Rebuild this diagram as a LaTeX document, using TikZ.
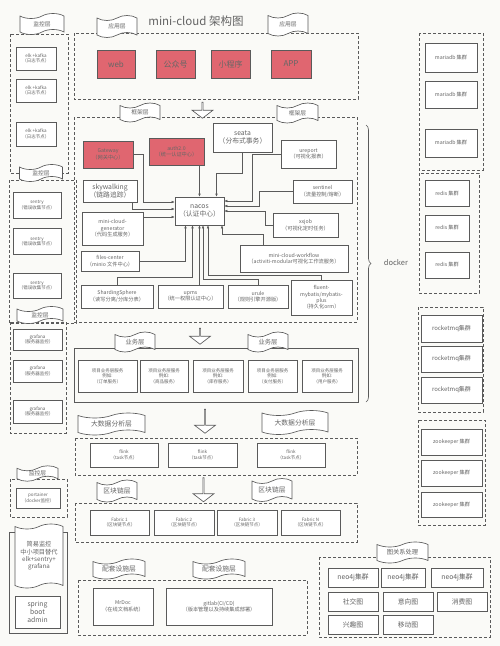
\documentclass[tikz,border=0pt]{standalone}
\usepackage{fontspec}
\setmainfont{Noto Sans CJK SC}
\usetikzlibrary{shapes.symbols, shapes.arrows, arrows.meta, calc, decorations.pathreplacing}

\definecolor{bgpaper}{RGB}{250,250,247}
\definecolor{inkgray}{RGB}{90,90,90}
\definecolor{txtgray}{RGB}{100,100,100}
\definecolor{redbox}{RGB}{224,102,112}

\begin{document}
\begin{tikzpicture}[x=1pt, y=-1pt,
  tinytxt/.style={font=\fontsize{4.5}{5.5}\selectfont},
  smalltxt/.style={font=\fontsize{5.2}{6.4}\selectfont},
  midtxt/.style={font=\fontsize{6.8}{8.2}\selectfont},
  bigtxt/.style={font=\fontsize{8}{9.5}\selectfont},
  box/.style={draw=inkgray, fill=white, text=txtgray, align=center, inner sep=0.5pt, line width=0.65pt, smalltxt},
  redfill/.style={box, fill=redbox, text=black!60},
  sz/.style 2 args={minimum width=#1pt, minimum height=#2pt},
  layer/.style={draw=inkgray, line width=0.65pt, dash pattern=on 3pt off 2pt},
  tag/.style={tape, draw=inkgray, fill=white, text=txtgray, align=center, inner sep=0pt, line width=0.65pt, tape bend height=5pt, font=\fontsize{5.8}{6.8}\selectfont},
  downarrow/.style={single arrow, draw=inkgray, fill=white, rotate=-90, minimum height=16pt, minimum width=21pt, single arrow head extend=5pt, single arrow tip angle=105, inner sep=0pt, line width=0.65pt},
  con/.style={draw=inkgray, line width=0.5pt, -{Latex[length=3pt,width=2.6pt]}},
]
  \useasboundingbox (0,0) rectangle (500,646);
  \fill[bgpaper] (0,0) rectangle (500,646);

  % --- Title ---
  \node[text=txtgray, font=\fontsize{11.5}{12.5}\selectfont] (title) at (196,21) {mini-cloud 架构图};

  % --- Layer frames ---
  \draw[layer] (10,34) rectangle (68,173);
  \draw[layer] (9,180) rectangle (76,323);
  \draw[layer] (10,322) rectangle (66,433);
  \draw[layer] (10,479) rectangle (67,517);
  \draw[inkgray, line width=0.65pt] (9,532) rectangle (67,633);
  \draw[layer] (74,33) rectangle (358,99);
  \draw[layer] (74,117) rectangle (357,322);
  \draw[inkgray, line width=0.65pt] (74,348) rectangle (358,402);
  \draw[layer] (75,438) rectangle (357,475);
  \draw[layer] (75,503) rectangle (357,542);
  \draw[layer] (78,580) rectangle (307,635);
  \draw[layer] (319,557) rectangle (490,637);
  \draw[layer] (419,33) rectangle (483,170);
  \draw[layer] (419,173) rectangle (479,293);
  \draw[layer] (418,307) rectangle (483,412);
  \draw[layer] (418,420) rectangle (485,525);

  % --- Left column: monitoring ---
  \node[box, tinytxt, sz={40}{23}] (elk1) at (36,58.5) {elk +kafka\\（日志节点）};
  \node[box, tinytxt, sz={40}{23}] (elk2) at (36,90.5) {elk +kafka\\（日志节点）};
  \node[box, tinytxt, sz={40}{24}] (elk3) at (36,134) {elk +kafka\\（日志节点）};
  \node[box, tinytxt, sz={48}{26}] (sentry1) at (37,205) {sentry\\（错误收集节点）};
  \node[box, tinytxt, sz={48}{26}] (sentry2) at (37,241.5) {sentry\\（错误收集节点）};
  \node[box, tinytxt, sz={48}{25}] (sentry3) at (37,285.5) {sentry\\（错误收集节点）};
  \node[box, tinytxt, sz={49}{21}] (grafana1) at (37.5,339.5) {grafana\\（服务器监控）};
  \node[box, tinytxt, sz={49}{22}] (grafana2) at (37.5,371) {grafana\\（服务器监控）};
  \node[box, tinytxt, sz={49}{23}] (grafana3) at (37.5,411.5) {grafana\\（服务器监控）};
  \node[box, tinytxt, sz={44}{20}] (portainer) at (38,498) {portainer\\（docker监控）};
  \node[tag, sz={48}{64}, font=\fontsize{6.2}{7.4}\selectfont] (simplemon) at (39,556) {简易监控\\中小项目替代\\elk+sentry+\\grafana};
  \node[box, sz={45}{32}, font=\fontsize{6.8}{7.8}\selectfont] (sba) at (37.5,612) {spring\\boot\\admin};

  \node[tag, sz={44}{21}] (tagmon1) at (42,24) {监控层};
  \node[tag, sz={43}{17}] (tagmon2) at (41,173) {监控层};
  \node[tag, sz={46}{17}] (tagmon3) at (40,315) {监控层};
  \node[tag, sz={41}{15}] (tagmon4) at (37.5,473.5) {监控层};

  % --- Application layer ---
  \node[redfill, bigtxt, sz={38}{28}] (web) at (116,64) {web};
  \node[redfill, bigtxt, sz={39}{28}] (gzh) at (175.5,64) {公众号};
  \node[redfill, bigtxt, sz={39}{28}] (xcx) at (230.5,64) {小程序};
  \node[redfill, bigtxt, sz={40}{28}] (app) at (291,64) {APP};
  \node[tag, sz={40}{22}] (tagapp1) at (117,26.5) {应用层};
  \node[tag, sz={40}{23}] (tagapp2) at (288,24.5) {应用层};

  % --- Framework layer ---
  \node[redfill, sz={50}{27}] (gw) at (108,154.5) {Gateway\\（网关中心）};
  \node[redfill, sz={55}{27}] (auth) at (176.5,151.5) {auth2.0\\（统一认证中心）};
  \node[box, midtxt, sz={59}{29}] (seata) at (242.5,137.5) {seata\\（分布式事务）};
  \node[box, sz={55}{28}] (ureport) at (308.5,154) {ureport\\（可视化报表）};
  \node[box, midtxt, sz={54}{22}] (sky) at (110,191) {skywalking\\（链路追踪）};
  \node[box, midtxt, sz={49}{28}] (nacos) at (199.5,211) {nacos\\（认证中心）};
  \node[box, sz={59}{23}] (sentinel) at (322.5,191.5) {sentinel\\（流量控制/熔断）};
  \node[box, sz={61}{33}] (gen) at (112.5,228.5) {mini-cloud-\\generator\\（代码生成服务）};
  \node[box, sz={65}{24}] (xxjob) at (305.5,225) {xxjob\\（可视化定时任务）};
  \node[box, sz={58}{20}] (files) at (110,261) {files-center\\（minio 文件中心）};
  \node[box, sz={108}{27}] (workflow) at (294,258.5) {mini-cloud-workflow\\（activiti-modular可视化工作流服务）};
  \node[box, sz={72}{23}] (sharding) at (117,296.5) {ShardingSphere\\（读写分离/分库分表）};
  \node[box, sz={65}{23}] (upms) at (190.5,296.5) {upms\\（统一权限认证中心）};
  \node[box, sz={60}{23}] (urule) at (258,296.5) {urule\\（规则引擎开源版）};
  \node[box, sz={61}{35}] (fluent) at (321.5,297.5) {fluent-\\mybatis/mybatis-\\plus\\（持久化orm）};
  \node[tag, sz={40}{19}] (tagfw1) at (140,112.5) {框架层};
  \node[tag, sz={41}{20}] (tagfw2) at (297.5,113) {框架层};

  % --- Connectors into nacos ---
  \draw[con] (auth.south -| nacos.north) -- (nacos.north);
  \draw[con] (gw.east) -- ++(10,0) |- ($(nacos.west)+(0,-9)$);
  \draw[con] ($(sky.south)+(22,0)$) |- ($(nacos.west)+(0,-2)$);
  \draw[con] ($(nacos.west -| gen.east)+(0,6)$) -- ($(nacos.west)+(0,6)$);
  \draw[con] (seata.south) -- ++(0,21) -| ($(nacos.north)+(17,0)$);
  \draw[con] (ureport.west) -- ++(-28,0) |- ($(nacos.east)+(0,-10)$);
  \draw[con] (sentinel.west) -- ++(-33,0) |- ($(nacos.east)+(0,-5)$);
  \draw[con] (xxjob.west) -- ++(-7,0) |- (nacos.east);
  \draw[con] (files.east) -| ($(nacos.south)+(-14,0)$);
  \draw[con] (sharding.north) -- ++(0,-7) -| ($(nacos.south)+(-7,0)$);
  \draw[con] (upms.north -| nacos.south) -- (nacos.south);
  \draw[con] (urule.north) -- ++(0,-5) -| ($(nacos.south)+(3.5,0)$);
  \draw[con] (fluent.north) -- ++(0,-4) -| ($(nacos.south)+(8.5,0)$);
  \draw[con] ($(workflow.north)+(-31,0)$) -- ++(0,-10) -| ($(nacos.south)+(22.5,0)$);

  % --- docker brace ---
  \draw[inkgray, line width=0.65pt, decorate, decoration={brace, amplitude=5pt}] (366,125) -- (366,402);
  \node[text=txtgray, font=\fontsize{7.5}{8.5}\selectfont] (docker) at (396,263) {docker};

  % --- Business layer ---
  \node[box, tinytxt, sz={59}{32}] (biz1) at (107.5,376) {项目业务层服务\\例如:\\（订单服务）};
  \node[box, tinytxt, sz={48}{32}] (biz2) at (164,376) {项目业务层服务\\例如:\\（商品服务）};
  \node[box, tinytxt, sz={50}{32}] (biz3) at (218,376) {项目业务层服务\\例如:\\（库存服务）};
  \node[box, tinytxt, sz={49}{32}] (biz4) at (272.5,376) {项目业务层服务\\例如:\\（支付服务）};
  \node[box, tinytxt, sz={50}{32}] (biz5) at (327,376) {项目业务层服务\\例如:\\（用户服务）};
  \node[tag, sz={40}{20}, font=\fontsize{6.3}{7.3}\selectfont] (tagbiz1) at (135,342) {业务层};
  \node[tag, sz={40}{20}, font=\fontsize{6.3}{7.3}\selectfont] (tagbiz2) at (268,342) {业务层};

  % --- Big data layer ---
  \node[box, tinytxt, sz={68}{24}] (flink1) at (124,455) {flink\\（task节点）};
  \node[box, tinytxt, sz={69}{24}] (flink2) at (202.5,455) {flink\\（task节点）};
  \node[box, tinytxt, sz={68}{24}] (flink3) at (291,455) {flink\\（task节点）};
  \node[tag, sz={67}{22}, font=\fontsize{6.8}{7.8}\selectfont] (tagbd1) at (111.5,424) {大数据分析层};
  \node[tag, sz={66}{24}, font=\fontsize{6.8}{7.8}\selectfont] (tagbd2) at (295,422.5) {大数据分析层};

  % --- Blockchain layer ---
  \node[box, tinytxt, sz={59}{25}] (fab1) at (119.5,522.5) {Fabric 1\\（区块链节点）};
  \node[box, tinytxt, sz={60}{25}] (fab2) at (184,522.5) {Fabric 2\\（区块链节点）};
  \node[box, tinytxt, sz={60}{25}] (fab3) at (247,522.5) {Fabric 3\\（区块链节点）};
  \node[box, tinytxt, sz={59}{25}] (fabn) at (310.5,522.5) {Fabric N\\（区块链节点）};
  \node[tag, sz={40}{22}, font=\fontsize{6.8}{7.8}\selectfont] (tagbc1) at (117,491) {区块链层};
  \node[tag, sz={40}{23}, font=\fontsize{6.8}{7.8}\selectfont] (tagbc2) at (272,490) {区块链层};

  % --- Support layer ---
  \node[box, sz={60}{37}] (mrdoc) at (123,606.5) {MrDoc\\（在线文档系统）};
  \node[box, sz={106}{37}] (gitlab) at (219,606.5) {gitlab(CI/CD)\\（版本管理以及持续集成部署）};
  \node[tag, sz={52}{20}, font=\fontsize{6.8}{7.8}\selectfont] (tagin1) at (119,569) {配套设施层};
  \node[tag, sz={52}{20}, font=\fontsize{6.8}{7.8}\selectfont] (tagin2) at (219,569) {配套设施层};

  % --- Graph processing ---
  \node[box, midtxt, sz={50}{19}] (neo1) at (353,577.5) {neo4j集群};
  \node[box, midtxt, sz={44}{19}] (neo2) at (403,577.5) {neo4j集群};
  \node[box, midtxt, sz={52}{19}] (neo3) at (457,577.5) {neo4j集群};
  \node[box, midtxt, sz={50}{19}] (social) at (353,601.5) {社交图};
  \node[box, midtxt, sz={50}{19}] (intent) at (408,601.5) {意向图};
  \node[box, midtxt, sz={50}{19}] (spend) at (462,601.5) {消费图};
  \node[box, midtxt, sz={50}{19}] (hobby) at (353,624.5) {兴趣图};
  \node[box, midtxt, sz={50}{19}] (mobile) at (408,624.5) {移动图};
  \node[tag, sz={51}{21}, font=\fontsize{6.3}{7.3}\selectfont] (taggr) at (402.5,552.5) {图关系处理};

  % --- Right column: clusters ---
  \node[box, sz={52}{29}] (maria1) at (451,57.5) {mariadb 集群};
  \node[box, sz={52}{27}] (maria2) at (451,94.5) {mariadb 集群};
  \node[box, sz={52}{28}] (maria3) at (451,143) {mariadb 集群};
  \node[box, sz={44}{26}] (redis1) at (447,193.5) {redis 集群};
  \node[box, sz={44}{26}] (redis2) at (447,228) {redis 集群};
  \node[box, sz={44}{26}] (redis3) at (447,265) {redis 集群};
  \node[box, font=\fontsize{6}{7}\selectfont, sz={61}{27}] (rmq1) at (451.5,328.5) {rocketmq集群};
  \node[box, font=\fontsize{6}{7}\selectfont, sz={61}{26}] (rmq2) at (451.5,359) {rocketmq集群};
  \node[box, font=\fontsize{6}{7}\selectfont, sz={61}{26}] (rmq3) at (451.5,390) {rocketmq集群};
  \node[box, sz={61}{26}] (zk1) at (451.5,442) {zookeeper 集群};
  \node[box, sz={61}{26}] (zk2) at (451.5,473) {zookeeper 集群};
  \node[box, sz={61}{25}] (zk3) at (451.5,504.5) {zookeeper 集群};

  % --- Layer arrows ---
  \node[downarrow] (arr1) at (202.5,110) {};
  \node[downarrow] (arr2) at (200,336) {};
  \node[downarrow, minimum height=24pt] (arr3) at (205,421) {};
  \node[downarrow, minimum height=24pt] (arr4) at (203.5,489.5) {};
\end{tikzpicture}
\end{document}
